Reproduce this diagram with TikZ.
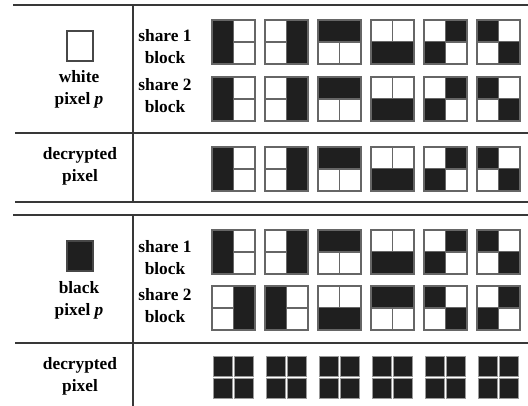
\documentclass[tikz,border=0pt]{standalone}
\usepackage{fontspec}
\setmainfont{Liberation Serif}
\usetikzlibrary{positioning}

% one 2x2 share block: x, y, then TL TR BL BR (1 = black)
\newcommand{\shareblock}[6]{%
  \foreach \v [count=\i from 0] in {#3,#4,#5,#6} {
    \pgfmathtruncatemacro\bcol{mod(\i,2)}
    \pgfmathtruncatemacro\brow{div(\i,2)}
    \ifnum\v=1
      \fill[ink] ({#1+\bcol*21.5},{#2+\brow*22}) rectangle ++(21.5,22);
    \else
      \draw[cell] ({#1+\bcol*21.5},{#2+\brow*22}) rectangle ++(21.5,22);
    \fi
  }
  \draw[cell] (#1,#2) rectangle ++(43,44);
}

\begin{document}
\begin{tikzpicture}[x=0.75pt, y=-0.75pt,
    ink/.style={fill=black!88},
    cell/.style={draw=black!60, line width=1.1pt},
    rule/.style={draw=black!78, line width=1.3pt},
    lbl/.style={align=center, inner sep=0pt,
                font=\bfseries\fontsize{13}{16.5}\selectfont},
    pix/.style={draw=black!72, line width=1.3pt, inner sep=0pt,
                minimum width=20pt, minimum height=22.5pt}]
  \useasboundingbox (0,0) rectangle (528,406);

  % white pixel table
  \draw[rule] (13,5) -- (528,5);
  \draw[rule] (133,5) -- (133,202);
  \draw[rule] (15,133) -- (528,133);
  \draw[rule] (15,202) -- (528,202);

  \node[pix] (wpix) at (80,46) {};
  \node[lbl] (wlbl) at (79,89) {white\\pixel \textit{p}};
  \node[lbl] (ws1) at (165,47) {share 1\\block};
  \node[lbl] (ws2) at (165,96) {share 2\\block};
  \node[lbl] (wdec) at (80,166) {decrypted\\pixel};

  \foreach \y in {20,77,147}
    \foreach \x/\qa/\qb/\qc/\qd in {212/1/0/1/0, 265/0/1/0/1, 318/1/1/0/0,
                                    371/0/0/1/1, 424/0/1/1/0, 477/1/0/0/1}
      {\shareblock{\x}{\y}{\qa}{\qb}{\qc}{\qd}}

  % black pixel table
  \draw[rule] (13,215) -- (528,215);
  \draw[rule] (133,215) -- (133,406);
  \draw[rule] (15,343) -- (528,343);

  \node[pix, fill=black!88] (bpix) at (80,256) {};
  \node[lbl] (blbl) at (79,300) {black\\pixel \textit{p}};
  \node[lbl] (bs1) at (165,258) {share 1\\block};
  \node[lbl] (bs2) at (165,306) {share 2\\block};
  \node[lbl] (bdec) at (80,376) {decrypted\\pixel};

  \foreach \x/\qa/\qb/\qc/\qd in {212/1/0/1/0, 265/0/1/0/1, 318/1/1/0/0,
                                  371/0/0/1/1, 424/0/1/1/0, 477/1/0/0/1}
    {\shareblock{\x}{230}{\qa}{\qb}{\qc}{\qd}}
  \foreach \x/\qa/\qb/\qc/\qd in {212/0/1/0/1, 265/1/0/1/0, 318/0/0/1/1,
                                  371/1/1/0/0, 424/1/0/0/1, 477/0/1/1/0}
    {\shareblock{\x}{286}{\qa}{\qb}{\qc}{\qd}}

  \foreach \x in {213,266,319,372,425,478}
    \foreach \i in {0,1}
      \foreach \j in {0,1}
        \fill[ink, draw=black!40, line width=0.4pt]
          ({\x+\i*21},{356+\j*22}) rectangle ++(19,20.5);
\end{tikzpicture}
\end{document}
